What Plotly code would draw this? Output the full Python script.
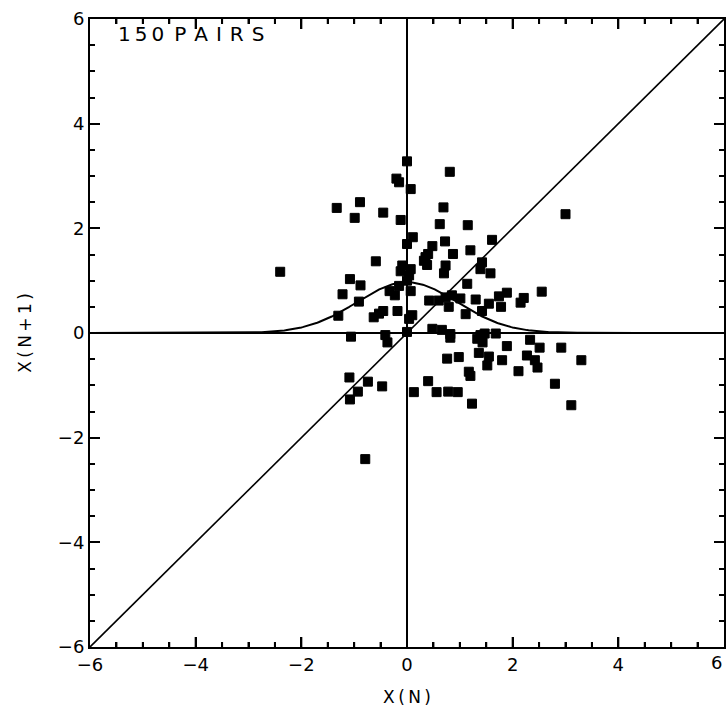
import numpy as np
import plotly.graph_objects as go

# Successive pairs (x(n), x(n+1))
x_n = [0.0, -0.2, -0.15, 0.07, 0.81, -0.89, -1.33, -0.99, -0.45, -0.12,
       0.69, 0.62, 1.15, 0.11, 0.0, 0.72, 1.61, 0.48, 1.2, 0.87,
       0.4, 0.35, 0.32, 0.38, 0.73, -0.59, 1.42, 1.39, 0.7, 1.58,
       -0.09, -0.12, 0.07, 0.04, -2.4, -1.08, -0.88, -1.22, -0.91, -1.3,
       -0.33, -0.23, -0.45, -0.63, -0.53, -0.18, 0.04, 0.1, 0.07, 0.0,
       1.14, 0.73, 0.6, 0.79, 0.42, 0.85, 1.01, 1.3, 1.11, 1.42,
       1.55, 1.74, 1.89, 1.78, 2.15, 2.21, 2.55, 3.0, -0.15, 0.0,
       0.48, 0.66, 0.82, 0.82, -1.06, -0.41, -0.37, 1.39, 1.47, 1.68,
       1.33, 1.43, 2.33, 1.89, 2.51, 2.92, 3.3, 0.98, 0.76, 1.36,
       1.55, 1.52, 1.8, 2.27, 2.42, 2.47, 2.11, 1.17, 1.2, 2.8,
       3.11, 0.4, 0.13, 0.56, 0.78, 0.96, 1.23, -1.09, -0.74, -0.47,
       -0.93, -1.08, -0.79]
x_n1 = [3.28, 2.95, 2.88, 2.75, 3.08, 2.5, 2.39, 2.2, 2.3, 2.16,
        2.4, 2.08, 2.06, 1.83, 1.7, 1.75, 1.78, 1.66, 1.58, 1.51,
        1.51, 1.45, 1.38, 1.3, 1.29, 1.37, 1.35, 1.22, 1.14, 1.14,
        1.29, 1.18, 1.22, 1.1, 1.17, 1.03, 0.91, 0.74, 0.6, 0.33,
        0.8, 0.72, 0.42, 0.3, 0.37, 0.42, 0.27, 0.34, 0.8, 1.0,
        0.94, 0.68, 0.62, 0.5, 0.62, 0.72, 0.66, 0.64, 0.36, 0.42,
        0.56, 0.7, 0.77, 0.5, 0.58, 0.67, 0.79, 2.27, 0.9, 0.02,
        0.08, 0.06, -0.02, -0.09, -0.07, -0.04, -0.18, -0.04, -0.01, -0.01,
        -0.11, -0.18, -0.13, -0.25, -0.28, -0.28, -0.52, -0.46, -0.49, -0.38,
        -0.45, -0.62, -0.52, -0.43, -0.52, -0.66, -0.73, -0.74, -0.82, -0.97,
        -1.38, -0.92, -1.13, -1.13, -1.12, -1.13, -1.35, -0.85, -0.93, -1.02,
        -1.12, -1.27, -2.41]

# Bell-shaped reference curve
PEAK = 0.97
SIGMA = 0.95
curve_x = np.linspace(-6, 6, 481)
curve_y = PEAK * np.exp(-curve_x ** 2 / (2 * SIGMA ** 2))

AXIS_MIN, AXIS_MAX = -6, 6
MAJOR_STEP = 2
MINOR_STEP = 0.5
MAJOR_LEN = 10
MINOR_LEN = 5

FONT = "DejaVu Sans"
INK = "black"
TS = "\u2009"  # thin space used to widen the lettering


def spaced(s, sep=TS):
    return sep.join(s)


fig = go.Figure()

# Identity line, drawn on the labelled (overlay) axes
fig.add_trace(go.Scatter(x=[AXIS_MIN, AXIS_MAX], y=[AXIS_MIN, AXIS_MAX], mode="lines",
                         xaxis="x2", yaxis="y2",
                         line=dict(color=INK, width=1.6), hoverinfo="skip"))
# Coordinate axes through the origin
fig.add_trace(go.Scatter(x=[AXIS_MIN, AXIS_MAX], y=[0, 0], mode="lines",
                         line=dict(color=INK, width=2), hoverinfo="skip"))
fig.add_trace(go.Scatter(x=[0, 0], y=[AXIS_MIN, AXIS_MAX], mode="lines",
                         line=dict(color=INK, width=2), hoverinfo="skip"))
fig.add_trace(go.Scatter(x=curve_x, y=curve_y, mode="lines",
                         line=dict(color=INK, width=2), hoverinfo="skip"))

fig.add_trace(go.Scatter(x=x_n, y=x_n1, mode="markers",
                         marker=dict(symbol="square", size=9, color=INK,
                                     line=dict(color=INK, width=1))))

# Boxed frame with inward ticks on all four sides
frame = dict(range=[AXIS_MIN, AXIS_MAX], showline=True, linecolor=INK, linewidth=2,
             mirror="allticks", showgrid=False, zeroline=False,
             ticks="inside", tickcolor=INK, tickwidth=2)

tick_font = dict(family=FONT, size=18, color=INK)
title_font = dict(family=FONT, size=17, color=INK)

fig.update_layout(
    template="none",
    width=726, height=719,
    margin=dict(l=90, r=2, t=19, b=72),
    paper_bgcolor="white", plot_bgcolor="white",
    showlegend=False,
    # short unlabelled ticks every half unit
    xaxis=dict(**frame, dtick=MINOR_STEP, ticklen=MINOR_LEN, showticklabels=False),
    yaxis=dict(**frame, dtick=MINOR_STEP, ticklen=MINOR_LEN, showticklabels=False),
    # long labelled ticks every two units
    xaxis2=dict(**frame, dtick=MAJOR_STEP, ticklen=MAJOR_LEN, tickfont=tick_font,
                overlaying="x", anchor="y", side="bottom",
                title=dict(text=spaced("X(N)"), font=title_font, standoff=18)),
    yaxis2=dict(**frame, dtick=MAJOR_STEP, ticklen=MAJOR_LEN, tickfont=tick_font,
                overlaying="y", anchor="x", side="left",
                title=dict(text=spaced("X(N+1)"), font=title_font, standoff=22)),
)

# Inward tick marks along the bottom and top edges, sized in pixels
x_tick_positions = np.arange(AXIS_MIN + MINOR_STEP, AXIS_MAX, MINOR_STEP)
for xt in x_tick_positions:
    length = MAJOR_LEN if abs(xt % MAJOR_STEP) < 1e-9 else MINOR_LEN
    for edge, sign in ((0, 1), (1, -1)):
        fig.add_shape(type="line", xref="x", yref="paper", ysizemode="pixel",
                      yanchor=edge, x0=xt, x1=xt, y0=0, y1=sign * length,
                      line=dict(color=INK, width=2), layer="above")

# Right-hand end label of the x axis, kept inside the page
fig.add_annotation(x=AXIS_MAX, y=0, xref="x", yref="paper", text="6",
                   showarrow=False, xanchor="right", yanchor="top", yshift=-3,
                   font=dict(family=FONT, size=18, color=INK))

fig.add_annotation(x=-5.5, y=5.72, xref="x", yref="y",
                   text=spaced("150") + "\u2002" + spaced("PAIRS", TS + TS),
                   showarrow=False, xanchor="left", yanchor="middle",
                   font=dict(family=FONT, size=20, color=INK))

fig.write_html("out.html")
